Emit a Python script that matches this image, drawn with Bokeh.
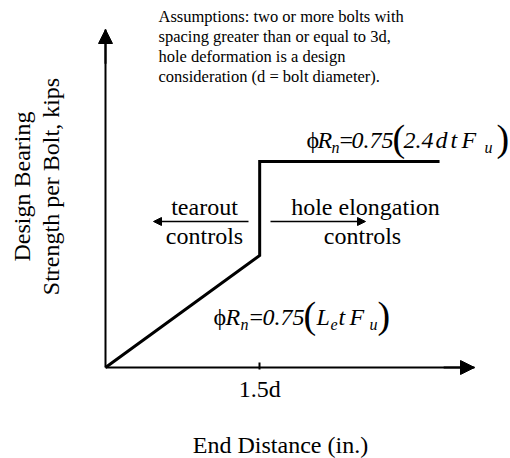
from bokeh.plotting import figure
from bokeh.models import Range1d, FixedTicker, Arrow, NormalHead
from bokeh.core.properties import value
from bokeh.embed import file_html
from bokeh.resources import INLINE

# Schematic design bearing strength vs. end distance (end distance in multiples of d)
end_distance = [0.0, 1.5, 1.5, 3.25]
design_strength = [0.0, 0.98, 1.8, 1.8]
tick_values = [1.5]
tick_labels = ["1.5d"]
x_axis_title = "End Distance (in.)"
y_axis_title = ["Design Bearing", "Strength per Bolt, kips"]
assumptions = [
    "Assumptions: two or more bolts with",
    "spacing greater than or equal to 3d,",
    "hole deformation is a design",
    "consideration (d = bolt diameter).",
]
left_region = ["tearout", "controls"]
right_region = ["hole elongation", "controls"]

FONT = "Liberation Serif"
W, H = 510, 458
# canvas position of the origin and of the two axis tips
OX, OY = 105, 367
X_TIP, Y_TIP = 474, 29
X_END, Y_END = 3.59, 2.955
SX = (X_TIP - OX) / X_END
SY = (OY - Y_TIP) / Y_END
# the text renderer puts the anchor about a third of an em above the baseline
BASELINE_SHIFT = 0.35

p = figure(width=W, height=H,
           x_range=Range1d(-OX / SX, (W - OX) / SX),
           y_range=Range1d(-(H - OY) / SY, OY / SY),
           output_backend="svg", toolbar_location=None, min_border=0)
p.outline_line_color = None
p.grid.visible = False
p.background_fill_color = "white"
p.border_fill_color = "white"


def dx(px):
    """Canvas pixel column -> data x."""
    return (px - OX) / SX


def dy(py):
    """Canvas pixel row -> data y."""
    return (OY - py) / SY


# axes through the origin
p.xaxis.fixed_location = 0
p.yaxis.fixed_location = 0
p.xaxis.bounds = (0, X_END)
p.yaxis.bounds = (0, Y_END)
p.xaxis.ticker = FixedTicker(ticks=tick_values)
p.xaxis.major_label_overrides = dict(zip(tick_values, tick_labels))
p.xaxis.minor_tick_line_color = None
p.xaxis.major_tick_in = 5
p.xaxis.major_tick_out = 2
p.xaxis.major_tick_line_width = 2
p.xaxis.major_label_standoff = 6
p.xaxis.major_label_text_font = FONT
p.xaxis.major_label_text_font_size = "24px"
p.xaxis.major_label_text_color = "black"
p.yaxis.ticker = FixedTicker(ticks=[])
p.yaxis.minor_tick_line_color = None
for ax in (p.xaxis, p.yaxis):
    ax.axis_line_width = 2
    ax.axis_line_color = "black"
    ax.major_tick_line_color = "black"

# arrowheads at the ends of the axes
p.add_layout(Arrow(end=NormalHead(size=14, fill_color="black", line_color="black"),
                   x_start=X_END - 0.3, y_start=0, x_end=X_END, y_end=0,
                   line_width=2, line_color="black"))
p.add_layout(Arrow(end=NormalHead(size=14, fill_color="black", line_color="black"),
                   x_start=0, y_start=Y_END - 0.3, x_end=0, y_end=Y_END,
                   line_width=2, line_color="black"))

# strength curve
p.line(end_distance, design_strength, line_width=3, line_color="black",
       line_join="miter")


def label(text, px, py, size, style="normal", align="left", vertical=False):
    """Text with its baseline at canvas pixel (px, py)."""
    shift = BASELINE_SHIFT * size
    if vertical:
        x, y, angle = dx(px - shift), dy(py), 1.5708
    else:
        x, y, angle = dx(px), dy(py - shift), 0.0
    p.text(x=[x], y=[y], text=[text], text_font=value(FONT),
           text_font_size=value(f"{size}px"), text_font_style=style,
           text_align=align, text_baseline="alphabetic",
           text_color="black", angle=angle)


# axis titles
label(x_axis_title, 280, 453, 24, align="center")
label(y_axis_title[0], 30, 186, 24, align="center", vertical=True)
label(y_axis_title[1], 59, 186, 24, align="center", vertical=True)

# assumptions note
for i, line in enumerate(assumptions):
    label(line, 158, 22 + 20 * i, 16.5)

# governing-region notes with arrows
label(left_region[0], 204, 215, 24, align="center")
label(left_region[1], 204, 244, 24, align="center")
label(right_region[0], 365, 215, 24, align="center")
label(right_region[1], 362, 244, 24, align="center")
p.add_layout(Arrow(end=NormalHead(size=8, fill_color="black", line_color="black"),
                   x_start=dx(248), y_start=dy(221), x_end=dx(153), y_end=dy(221),
                   line_width=1.5, line_color="black"))
p.add_layout(Arrow(end=NormalHead(size=8, fill_color="black", line_color="black"),
                   x_start=dx(270), y_start=dy(221), x_end=dx(365), y_end=dy(221),
                   line_width=1.5, line_color="black"))

# capacity equations: (text, left px, baseline px, size px, style)
upper_eq = [
    ("\u03d5", 306, 148, 24, "normal"),
    ("R", 317, 148, 24, "italic"),
    ("n", 331, 153, 16, "italic"),
    ("=", 339, 148, 24, "normal"),
    ("0.75", 351, 148, 24, "italic"),
    ("(", 392, 151, 38, "normal"),
    ("2.4", 403, 148, 24, "italic"),
    ("d", 435, 148, 24, "italic"),
    ("t", 450, 148, 24, "italic"),
    ("F", 461, 148, 24, "italic"),
    ("u", 484, 153, 16, "italic"),
    (")", 496, 151, 38, "normal"),
]
lower_eq = [
    ("\u03d5", 213, 325, 24, "normal"),
    ("R", 225, 325, 24, "italic"),
    ("n", 240, 330, 16, "italic"),
    ("=", 249, 325, 24, "normal"),
    ("0.75", 262, 325, 24, "italic"),
    ("(", 303, 328, 38, "normal"),
    ("L", 316, 325, 24, "italic"),
    ("e", 330, 330, 16, "italic"),
    ("t", 338, 325, 24, "italic"),
    ("F", 349, 325, 24, "italic"),
    ("u", 369, 330, 16, "italic"),
    (")", 377, 328, 38, "normal"),
]
for text, px, py, size, style in upper_eq + lower_eq:
    label(text, px, py, size, style)

open("out.html", "w").write(file_html(p, INLINE))
